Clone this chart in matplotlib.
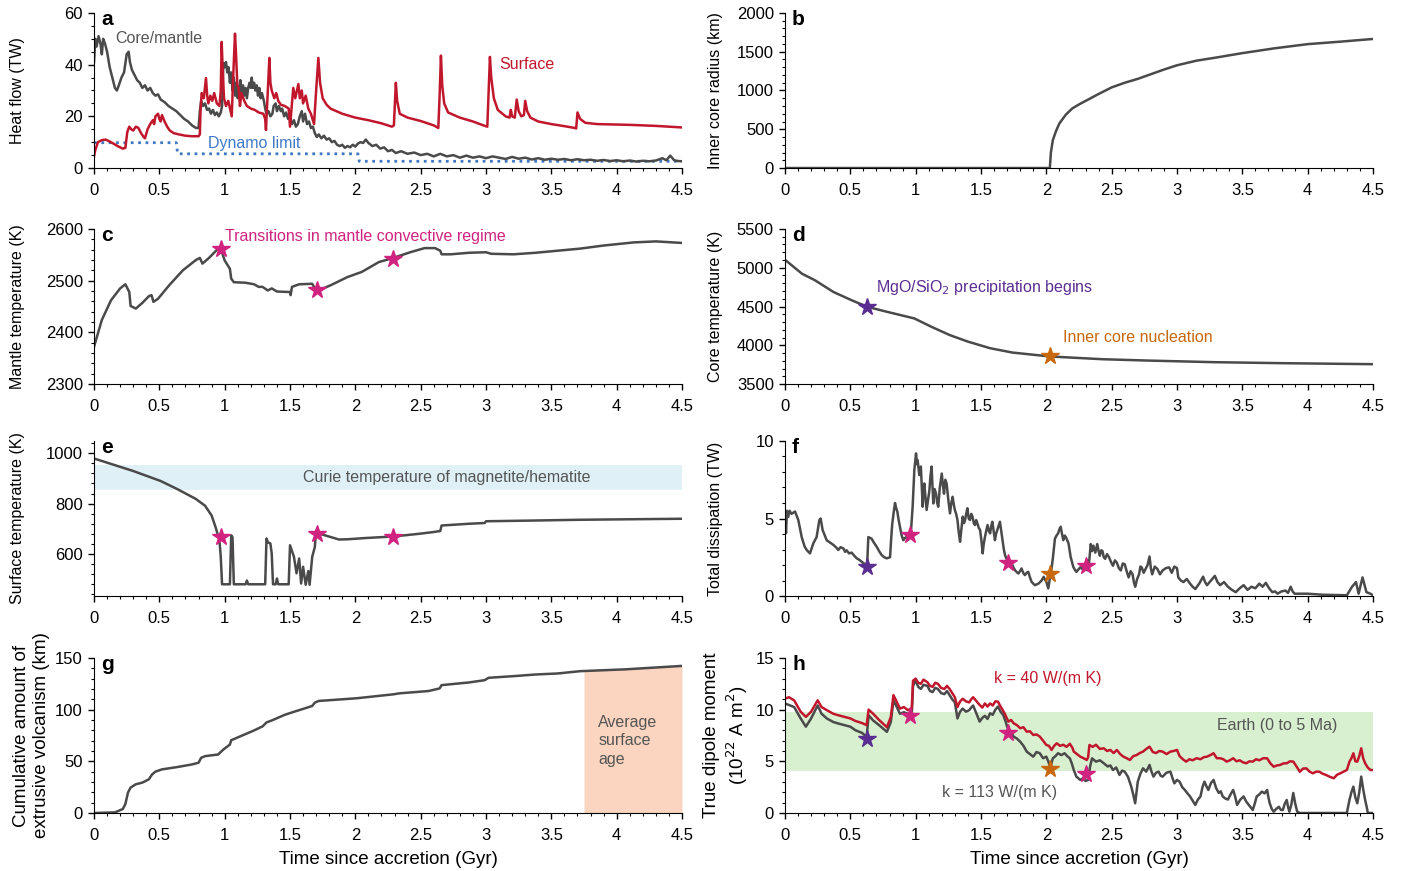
import matplotlib
matplotlib.use("Agg")
import matplotlib.pyplot as plt
from matplotlib.ticker import MultipleLocator, FuncFormatter

plt.rcParams["font.family"] = ["Liberation Sans", "DejaVu Sans"]

GRAY = "#4a4a4a"
RED = "#c1172d"
BLUE = "#3f78c4"
MAGENTA = "#d0237f"
PURPLE = "#5a2d91"
ORANGE = "#c8680e"
TXT = "#555555"

# ---- panel a: heat flow (TW)
cmb_t = [0.0, 0.01, 0.02, 0.035, 0.05, 0.06, 0.07, 0.085, 0.1, 0.12, 0.14, 0.16, 0.175, 0.19, 0.21,
         0.23, 0.25, 0.265, 0.275, 0.29, 0.31, 0.33, 0.35, 0.37, 0.39, 0.41, 0.43, 0.45, 0.47, 0.49,
         0.51, 0.54, 0.57, 0.6, 0.63, 0.66, 0.69, 0.72, 0.75, 0.78, 0.8, 0.81, 0.82, 0.835, 0.85,
         0.865, 0.88, 0.895, 0.91, 0.925, 0.94, 0.955, 0.97, 0.98, 0.99, 1.0, 1.01, 1.02, 1.03, 1.04,
         1.05, 1.06, 1.07, 1.08, 1.09, 1.1, 1.11, 1.12, 1.13, 1.14, 1.15, 1.16, 1.17, 1.18, 1.19,
         1.2, 1.207, 1.215, 1.225, 1.235, 1.245, 1.255, 1.265, 1.275, 1.285, 1.3, 1.31, 1.32, 1.335,
         1.35, 1.365, 1.375, 1.39, 1.4, 1.415, 1.43, 1.44, 1.455, 1.47, 1.485, 1.5, 1.515, 1.53,
         1.545, 1.56, 1.575, 1.59, 1.6, 1.615, 1.63, 1.645, 1.66, 1.675, 1.69, 1.705, 1.72, 1.74,
         1.76, 1.78, 1.8, 1.82, 1.84, 1.86, 1.88, 1.9, 1.92, 1.94, 1.96, 1.98, 2.0, 2.02, 2.04, 2.06,
         2.08, 2.1, 2.13, 2.16, 2.19, 2.22, 2.25, 2.28, 2.31, 2.35, 2.4, 2.45, 2.5, 2.55, 2.6, 2.65,
         2.7, 2.75, 2.8, 2.85, 2.9, 2.95, 3.0, 3.05, 3.1, 3.15, 3.2, 3.25, 3.3, 3.35, 3.4, 3.45, 3.5,
         3.55, 3.6, 3.65, 3.7, 3.75, 3.8, 3.85, 3.9, 3.95, 4.0, 4.05, 4.1, 4.15, 4.2, 4.25, 4.3,
         4.35, 4.38, 4.41, 4.44, 4.47, 4.5]
cmb_q = [41, 50, 47, 51, 48, 44, 50, 48, 45, 39, 35, 31, 30, 32, 35,
         37, 44, 45, 41, 38, 36, 34, 33, 31, 32, 30, 31, 29, 28, 28.5,
         26.5, 25.5, 24, 23, 22, 20.5, 19, 18, 16.5, 15.5, 15.5, 22, 26, 24, 25,
         22.5, 23, 21, 22.5, 20.5, 21.5, 20, 21.5, 24, 40.6, 39, 41, 37, 39, 33,
         37, 30, 35, 28, 33, 27, 30, 34, 29, 32, 28, 31, 27, 31, 33,
         31, 35, 31, 33, 30, 32, 28, 31, 27, 29, 26, 23, 21, 22,
         20, 21, 24, 25, 22, 24, 22, 23, 20, 21.5, 19, 20, 17, 18.5,
         16, 17, 20, 22, 18, 21, 17, 18, 15.5, 16, 13.5, 12, 13, 11.5,
         12.5, 11, 11.5, 10, 10.5, 9, 8.5, 9, 7.8, 8.5, 8, 9, 8.3, 9.5, 10, 9.7,
         11, 9.7, 8.5, 9, 7.5, 8, 6.5, 7, 5.8, 6.5, 5.5, 6, 5, 5.5, 4.5, 5.5,
         4.5, 5, 4, 4.8, 4, 4.5, 3.8, 4.5, 4, 3.5, 4.3, 3.6, 4, 3.3, 3.8, 3.2, 3.6,
         3.2, 3.5, 3, 3.4, 3, 3.2, 2.8, 3.1, 2.7, 3, 2.6, 2.9, 2.5, 2.8, 2.6, 2.9,
         3.8, 3, 4.8, 3, 2.7, 2.6]

surf_t = [0.0, 0.01, 0.03, 0.06, 0.09, 0.13, 0.18, 0.22, 0.24, 0.255, 0.27, 0.285, 0.3, 0.32,
          0.34, 0.36, 0.38, 0.39, 0.41, 0.43, 0.45, 0.46, 0.47, 0.49, 0.5, 0.51, 0.52, 0.54,
          0.56, 0.58, 0.61, 0.65, 0.7, 0.75, 0.8, 0.81, 0.815, 0.824, 0.84, 0.857, 0.866, 0.875,
          0.89, 0.905, 0.92, 0.94, 0.96, 0.97, 0.977, 0.985, 0.995, 1.01, 1.028, 1.045, 1.054,
          1.065, 1.079, 1.087, 1.097, 1.107, 1.117, 1.128, 1.15, 1.17, 1.2, 1.23, 1.26, 1.296,
          1.31, 1.316, 1.33, 1.342, 1.35, 1.36, 1.38, 1.395, 1.41, 1.43, 1.46, 1.49, 1.5, 1.51,
          1.525, 1.54, 1.564, 1.575, 1.59, 1.6, 1.62, 1.64, 1.66, 1.684, 1.7, 1.717, 1.73, 1.75,
          1.78, 1.81, 1.9, 2.0, 2.1, 2.2, 2.28, 2.295, 2.31, 2.32, 2.34,
          2.4, 2.5, 2.6, 2.635, 2.645, 2.655, 2.665, 2.68, 2.71, 2.8, 2.9, 2.98, 3.01, 3.02,
          3.03, 3.04, 3.06, 3.09, 3.15, 3.18, 3.19, 3.2, 3.22, 3.235, 3.25, 3.27, 3.29, 3.3,
          3.315, 3.34, 3.4, 3.5, 3.6, 3.68, 3.69, 3.7, 3.72, 3.76, 3.85, 4.0, 4.1, 4.3, 4.5]
surf_q = [4.5, 7, 10, 10.8, 11, 10, 8.5, 7.5, 7.8, 14, 16, 15, 14.5, 16,
          15.5, 13.5, 12, 11.5, 15, 17, 18.5, 17, 20, 21, 19, 18, 20.5, 18,
          16, 14.5, 13.5, 13, 12.5, 12.3, 12.3, 13, 22, 29, 27, 34.8, 28, 25,
          28, 26, 29, 25, 24, 30, 48.8, 38, 27, 24, 26, 22, 20,
          35, 52, 44, 32, 31, 24, 29, 26, 24, 23, 22.5, 21.5, 21,
          19, 14.7, 30, 42.6, 33, 30, 27, 29, 26, 24.5, 24, 23, 16, 22,
          31, 27, 32.5, 27, 30, 25, 28, 23, 21, 17, 30, 42.6, 33, 27,
          24.5, 23, 21, 19.5, 18.5, 17.3, 16, 16.5, 33, 26, 21,
          19.5, 18.2, 16.5, 15.5, 28, 43.5, 32, 25, 21.5, 19.5, 18, 16.5, 16, 30,
          43, 35, 27, 22.5, 20, 19.5, 22.5, 20, 19.5, 26.5, 22, 20, 20.5, 26,
          22, 19.5, 18, 17, 16.2, 15.5, 15.3, 21.5, 19, 17.5, 17, 16.8, 16.7, 16.3, 15.7]

dyn_t = [0.0, 0.63, 0.64, 2.02, 2.03, 4.5]
dyn_q = [9.8, 9.8, 5.5, 5.5, 2.6, 2.6]

# ---- panel b: inner core radius (km)
ic_t = [0.0, 2.027, 2.035, 2.05, 2.075, 2.1, 2.15, 2.2, 2.25, 2.3, 2.4, 2.5, 2.6, 2.7, 2.8, 2.9,
        3.0, 3.15, 3.3, 3.5, 3.75, 4.0, 4.25, 4.5]
ic_r = [0, 0, 200, 360, 480, 575, 690, 770, 820, 865, 955, 1040, 1100, 1150, 1210, 1270,
        1325, 1385, 1425, 1482, 1545, 1598, 1630, 1665]

# ---- panel c: mantle temperature (K)
tm_t = [0.0, 0.06, 0.13, 0.2, 0.24, 0.27, 0.28, 0.32, 0.37, 0.42, 0.44, 0.455, 0.49, 0.575, 0.68,
        0.78, 0.81, 0.83, 0.88, 0.95, 0.975, 1.0, 1.04, 1.05, 1.07, 1.16, 1.225, 1.26, 1.29, 1.33,
        1.36, 1.4, 1.5, 1.505, 1.515, 1.57, 1.67, 1.69, 1.7, 1.81, 1.94, 2.05, 2.18, 2.29, 2.42,
        2.53, 2.61, 2.65, 2.66, 2.73, 2.87, 3.0, 3.04, 3.21, 3.38, 3.55, 3.72, 3.9, 4.13, 4.3, 4.5]
tm_k = [2372, 2424, 2462, 2485, 2493, 2478, 2451, 2446, 2457, 2470, 2472, 2459, 2465, 2491, 2520,
        2540, 2544, 2533, 2544, 2562, 2558, 2539, 2523, 2504, 2497, 2496, 2493, 2488, 2488, 2481,
        2485, 2479, 2478, 2472, 2488, 2493, 2494, 2485, 2479, 2491, 2507, 2517, 2536, 2544, 2555,
        2563, 2563, 2558, 2551, 2551, 2554, 2555, 2552, 2551, 2554, 2558, 2562, 2568, 2574, 2576, 2573]

# ---- panel d: core temperature (K)
tc_t = [0.0, 0.13, 0.23, 0.37, 0.51, 0.63, 0.78, 0.99, 1.12, 1.26, 1.4, 1.57, 1.74, 2.03, 2.43, 2.77, 3.28, 3.8, 4.5]
tc_k = [5103, 4923, 4838, 4688, 4581, 4496, 4432, 4346, 4239, 4132, 4047, 3962, 3906, 3855, 3820, 3803, 3782, 3769, 3756]

# ---- panel e: surface temperature (K)
ts_t = [0.0, 0.3, 0.51, 0.64, 0.78, 0.85, 0.9, 0.93, 0.96, 0.97, 0.98, 1.04, 1.05, 1.06, 1.07,
        1.08, 1.16, 1.17, 1.18, 1.31, 1.32, 1.33, 1.35, 1.36, 1.37, 1.39, 1.40, 1.41, 1.49, 1.5,
        1.53, 1.55, 1.57, 1.585, 1.6, 1.62, 1.64, 1.65, 1.67, 1.69, 1.70, 1.74, 1.875, 1.94, 2.08,
        2.29, 2.49, 2.6, 2.65, 2.66, 2.87, 2.99, 3.0, 3.38, 3.72, 4.5]
ts_k = [980, 930, 890, 857, 818, 791, 752, 706, 653, 587, 477, 477, 673, 665, 477,
        477, 477, 492, 477, 477, 660, 645, 640, 600, 477, 477, 500, 477, 477, 633,
        587, 521, 580, 480, 547, 475, 530, 475, 587, 626, 692, 677, 656, 657, 662,
        668, 679, 686, 690, 712, 719, 722, 729, 732, 735, 739]
curie_lo, curie_hi = 855, 955

# ---- panel f: total dissipation (TW)
td_t = [0.0, 0.008, 0.015, 0.025, 0.035, 0.05, 0.077, 0.102, 0.128, 0.15, 0.166, 0.191, 0.217,
        0.242, 0.263, 0.273, 0.288, 0.3, 0.319, 0.345, 0.37, 0.39, 0.408, 0.425, 0.447, 0.46,
        0.472, 0.49, 0.51, 0.53, 0.549, 0.567, 0.587, 0.605, 0.62, 0.628, 0.638, 0.663, 0.68,
        0.702, 0.72, 0.74, 0.76, 0.778, 0.804, 0.812, 0.82, 0.832, 0.842, 0.85, 0.86, 0.87, 0.88,
        0.893, 0.906, 0.918, 0.93, 0.945, 0.962, 0.977, 0.99, 1.003, 1.01, 1.015, 1.028, 1.04,
        1.047, 1.054, 1.06, 1.066, 1.075, 1.084, 1.095, 1.105, 1.113, 1.122, 1.128, 1.135, 1.145,
        1.156, 1.165, 1.173, 1.185, 1.2, 1.208, 1.217, 1.227, 1.237, 1.25, 1.263, 1.273, 1.283,
        1.292, 1.3, 1.31, 1.32, 1.33, 1.34, 1.35, 1.36, 1.37, 1.378, 1.387, 1.396, 1.406, 1.416,
        1.426, 1.436, 1.445, 1.454, 1.463, 1.472, 1.483, 1.493, 1.503, 1.513, 1.52, 1.53, 1.54,
        1.55, 1.56, 1.57, 1.578, 1.587, 1.597, 1.607, 1.615, 1.625, 1.635, 1.645, 1.655, 1.666,
        1.675, 1.684, 1.695, 1.702, 1.715, 1.735, 1.748, 1.76, 1.773, 1.786, 1.798, 1.81, 1.823,
        1.836, 1.85, 1.862, 1.875, 1.887, 1.9, 1.913, 1.927, 1.94, 1.952, 1.964, 1.98, 1.99, 2.0,
        2.008, 2.015, 2.025, 2.033, 2.042, 2.05, 2.058, 2.066, 2.078, 2.09, 2.1, 2.11, 2.12, 2.13,
        2.14, 2.15, 2.16, 2.17, 2.186, 2.196, 2.206, 2.218, 2.23, 2.245, 2.26, 2.275, 2.29, 2.305,
        2.32, 2.33, 2.34, 2.35, 2.36, 2.375, 2.39, 2.4, 2.41, 2.42, 2.43, 2.44, 2.45, 2.465, 2.48,
        2.495, 2.51, 2.525, 2.54, 2.555, 2.57, 2.585, 2.6, 2.615, 2.63, 2.645, 2.66, 2.67, 2.68,
        2.695, 2.71, 2.72, 2.73, 2.745, 2.76, 2.775, 2.79, 2.8, 2.81, 2.83, 2.85, 2.87, 2.89, 2.915,
        2.94, 2.96, 2.98, 3.0, 3.01, 3.03, 3.05, 3.075, 3.1, 3.12, 3.14, 3.17, 3.2, 3.215, 3.23,
        3.26, 3.29, 3.31, 3.33, 3.36, 3.39, 3.42, 3.45, 3.48, 3.51, 3.54, 3.57, 3.6, 3.63, 3.655,
        3.68, 3.705, 3.73, 3.75, 3.77, 3.8, 3.83, 3.85, 3.87, 3.885, 3.9, 4.0, 4.12, 4.3, 4.34,
        4.37, 4.39, 4.42, 4.45, 4.48, 4.5]
td_q = [5.1, 4.05, 5.5, 5.1, 5.5, 5.3, 5.45, 4.9, 3.8, 3.2, 2.97, 2.75, 3.4,
        3.8, 4.9, 5.0, 4.26, 4.0, 3.6, 3.45, 3.3, 3.15, 2.97, 3.15, 3.07, 2.85,
        2.95, 2.75, 2.8, 2.6, 2.43, 2.35, 2.21, 2.1, 2.0, 1.9, 3.8, 3.7, 3.45,
        3.18, 2.9, 2.64, 2.5, 2.43, 2.5, 3.6, 4.58, 5.4, 6.0, 5.7, 5.44, 4.9, 4.47,
        3.9, 3.6, 3.75, 3.8, 3.65, 3.9, 5.76, 8.13, 9.2, 8.5, 8.77, 7.8, 8.35,
        7.0, 5.76, 6.8, 7.26, 6.4, 5.55, 6.2, 6.8, 7.7, 8.35, 7.2, 5.97, 6.9,
        6.6, 6.0, 5.76, 7.0, 7.9, 7.2, 6.6, 7.5, 7.26, 6.2, 5.33, 6.0, 6.4,
        5.9, 5.55, 5.3, 4.9, 4.1, 3.5, 4.3, 5.12, 4.7, 4.9, 5.3, 5.66, 5.0, 4.9,
        5.3, 5.1, 4.7, 4.58, 4.9, 4.7, 4.4, 4.26, 3.6, 2.75, 3.3, 3.8, 4.2,
        4.58, 4.2, 4.04, 4.5, 4.79, 4.2, 3.6, 4.0, 4.26, 4.5, 4.79, 4.2, 3.6,
        3.0, 2.64, 2.4, 2.32, 2.2, 2.1, 1.85, 1.67, 1.55, 1.45, 1.6, 1.78, 1.5,
        1.35, 1.5, 1.56, 1.2, 0.92, 0.8, 0.7, 0.75, 0.8, 0.9, 1.0, 1.24, 1.05, 0.92,
        0.7, 0.49, 1.0, 1.45, 1.9, 2.43, 3.1, 3.7, 3.9, 4.04, 4.3, 4.47, 4.0, 3.6,
        3.9, 3.8, 3.6, 3.4, 2.53, 2.2, 1.89, 1.7, 1.56, 1.7, 1.85, 1.75, 1.9, 1.7,
        1.65, 2.4, 3.35, 2.9, 3.25, 2.8, 3.35, 2.9, 2.6, 2.95, 2.9, 2.5, 2.4, 2.7, 2.5,
        2.2, 1.95, 2.3, 2.15, 1.8, 1.65, 2.1, 2.05, 1.6, 1.2, 1.6, 1.4, 0.9, 0.6,
        1.1, 1.4, 1.9, 1.85, 1.5, 1.75, 2.0, 2.55, 1.8, 1.4, 1.9, 1.75, 1.4, 1.65, 1.8,
        1.85, 1.5, 1.9, 1.8, 1.2, 1.0, 0.9, 1.1, 0.8, 0.6, 0.45, 0.8, 1.25, 0.9, 0.7,
        1.0, 1.3, 0.9, 0.7, 0.9, 0.6, 0.4, 0.25, 0.5, 0.7, 0.4, 0.6, 0.5, 0.8, 0.6,
        0.85, 0.5, 0.25, 0.3, 0.15, 0.3, 0.35, 0.2, 0.6, 0.3, 0.15, 0.15, 0.08, 0.05, 0.6,
        0.9, 0.15, 1.2, 0.25, 0.15, 0.05]

# ---- panel g: cumulative extrusive volcanism (km)
vol_t = [0.0, 0.16, 0.22, 0.24, 0.26, 0.28, 0.32, 0.37, 0.42, 0.445, 0.47, 0.52, 0.64, 0.75, 0.8,
         0.82, 0.85, 0.95, 0.99, 1.04, 1.05, 1.12, 1.22, 1.29, 1.32, 1.36, 1.46, 1.52, 1.64, 1.67,
         1.69, 1.72, 2.01, 2.29, 2.34, 2.56, 2.645, 2.66, 2.87, 2.99, 3.02, 3.21, 3.38, 3.55, 3.72,
         4.07, 4.5]
vol_km = [0, 0.6, 3.8, 8.6, 19.8, 24.6, 27.8, 29.4, 32.6, 37.4, 40, 42.2, 44.5, 47, 48.6,
          53.4, 55, 56.6, 61.4, 66.2, 70.4, 74.2, 79.6, 83.8, 87.6, 89.5, 95, 97.5, 102.3, 103.6,
          106.8, 108.4, 111, 114.8, 115.8, 118, 120.5, 123.7, 126.3, 128.5, 130.8, 132.4, 134, 135, 137.2,
          139, 142.3]
surface_age = 3.75

# ---- panel h: true dipole moment (1e22 A m^2), k = 40 W/(m K)
dm40_t = [0.0, 0.03, 0.07, 0.12, 0.16, 0.2, 0.25, 0.28, 0.32, 0.37, 0.41, 0.455, 0.5, 0.54, 0.59,
          0.625, 0.64, 0.675, 0.72, 0.78, 0.81, 0.83, 0.85, 0.88, 0.91, 0.94, 0.97, 0.98, 1.0, 1.02,
          1.04, 1.06, 1.09, 1.11, 1.13, 1.15, 1.17, 1.195, 1.22, 1.24, 1.26, 1.28, 1.3, 1.32, 1.34,
          1.36, 1.385, 1.41, 1.425, 1.44, 1.49, 1.51, 1.53, 1.55, 1.57, 1.59, 1.61, 1.63, 1.65,
          1.66, 1.68, 1.7, 1.71, 1.73, 1.75, 1.775, 1.8, 1.825, 1.85, 1.875, 1.9, 1.925, 1.95,
          1.975, 2.0, 2.02, 2.04, 2.06, 2.08, 2.105, 2.13, 2.155, 2.18, 2.2, 2.21, 2.235, 2.26,
          2.285, 2.31, 2.32, 2.33, 2.355, 2.38, 2.41, 2.44, 2.465, 2.49, 2.515, 2.54, 2.565, 2.59,
          2.615, 2.64, 2.665, 2.69, 2.715, 2.74, 2.765, 2.79, 2.815, 2.84, 2.865, 2.89, 2.92, 2.95,
          2.975, 3.0, 3.02, 3.045, 3.07, 3.095, 3.12, 3.15, 3.18, 3.205, 3.23, 3.255, 3.28, 3.305,
          3.33, 3.355, 3.38, 3.405, 3.43, 3.455, 3.48, 3.505, 3.53, 3.555, 3.58, 3.605, 3.63, 3.66,
          3.69, 3.715, 3.74, 3.765, 3.79, 3.815, 3.84, 3.865, 3.89, 3.915, 3.94, 3.965, 3.99, 4.015,
          4.04, 4.065, 4.09, 4.115, 4.14, 4.17, 4.2, 4.225, 4.25, 4.275, 4.3, 4.32, 4.335, 4.35,
          4.365, 4.38, 4.395, 4.41, 4.425, 4.44, 4.46, 4.48, 4.5]
dm40 = [11.06, 11.2, 10.9, 9.8, 9.3, 9.8, 10.9, 10.25, 9.95, 9.6, 9.45, 9.3, 9.15, 8.9, 8.7,
        8.5, 10.0, 9.6, 9.0, 8.3, 9.3, 11.4, 10.9, 10.1, 10.25, 9.95, 10.1, 12.8, 13.0, 12.6,
        12.5, 12.9, 12.65, 12.3, 12.2, 12.6, 12.5, 12.1, 12.0, 12.3, 12.0, 11.6, 11.2, 10.25, 10.8,
        11.05, 10.8, 10.7, 11.0, 11.2, 10.45, 10.2, 10.6, 10.3, 10.6, 10.4, 10.8, 10.77, 10.3,
        10.1, 9.65, 9.1, 8.84, 9.0, 8.68, 8.5, 8.2, 8.3, 7.87, 7.9, 7.55, 7.6, 7.39,
        7.0, 6.58, 6.5, 6.1, 6.5, 6.74, 6.5, 6.6, 6.4, 6.7, 6.3, 5.94, 5.7, 5.45,
        5.3, 5.13, 5.4, 6.58, 6.4, 6.6, 6.2, 6.26, 6.0, 6.1, 5.8, 6.1, 5.7, 5.45,
        5.3, 5.13, 5.5, 5.6, 5.8, 5.94, 6.2, 6.42, 5.9, 5.8, 6.0, 5.94, 5.7, 5.94,
        6.0, 6.1, 5.5, 5.2, 4.97, 5.2, 5.1, 5.3, 5.2, 5.4, 5.45, 5.6, 5.78, 5.3,
        5.3, 5.2, 4.97, 5.1, 5.3, 5.0, 5.1, 4.9, 4.81, 5.0, 4.97, 5.2, 5.1, 5.3,
        5.29, 4.8, 4.48, 4.6, 4.65, 4.8, 4.81, 5.0, 4.97, 4.5, 3.99, 4.3, 4.32, 4.0,
        3.84, 4.0, 3.99, 3.8, 3.68, 3.5, 3.36, 3.7, 3.84, 4.0, 4.16, 4.97, 5.3, 5.78,
        5.0, 4.97, 5.5, 6.26, 5.3, 4.81, 4.4, 4.16, 4.16]

# ---- panel h: k = 113 W/(m K)
dm113_t = [0.0, 0.03, 0.07, 0.12, 0.16, 0.2, 0.25, 0.28, 0.32, 0.37, 0.41, 0.455, 0.5, 0.54, 0.59,
           0.625, 0.64, 0.675, 0.72, 0.78, 0.81, 0.83, 0.85, 0.88, 0.91, 0.94, 0.97, 0.98, 1.0, 1.02,
           1.04, 1.06, 1.09, 1.11, 1.13, 1.15, 1.17, 1.195, 1.22, 1.24, 1.26, 1.28, 1.3, 1.32, 1.34,
           1.36, 1.385, 1.41, 1.425, 1.44, 1.49, 1.51, 1.53, 1.55, 1.57, 1.59, 1.61, 1.63, 1.65,
           1.67, 1.69, 1.7, 1.725, 1.75, 1.775, 1.8, 1.825, 1.85, 1.875, 1.9, 1.925, 1.95, 1.975,
           2.0, 2.015, 2.03, 2.05, 2.07, 2.09, 2.115, 2.14, 2.16, 2.18, 2.195, 2.21, 2.23, 2.26,
           2.28, 2.3, 2.32, 2.335, 2.35, 2.38, 2.41, 2.44, 2.47, 2.49, 2.51, 2.535, 2.56, 2.58,
           2.6, 2.625, 2.65, 2.665, 2.68, 2.69, 2.7, 2.72, 2.74, 2.765, 2.79, 2.805, 2.82, 2.84,
           2.86, 2.875, 2.89, 2.92, 2.95, 2.965, 2.98, 3.0, 3.02, 3.04, 3.06, 3.08, 3.1, 3.12,
           3.14, 3.16, 3.18, 3.195, 3.21, 3.225, 3.24, 3.26, 3.28, 3.3, 3.32, 3.335, 3.35, 3.37,
           3.39, 3.41, 3.43, 3.445, 3.46, 3.485, 3.51, 3.53, 3.555, 3.58, 3.595, 3.61, 3.63, 3.65,
           3.67, 3.69, 3.7, 3.71, 3.725, 3.74, 3.76, 3.78, 3.795, 3.81, 3.825, 3.84, 3.85, 3.86,
           3.875, 3.89, 3.905, 3.92, 3.94, 4.3, 4.32, 4.335, 4.35, 4.365, 4.38, 4.395, 4.41, 4.425,
           4.44, 4.455, 4.46, 4.5]
dm113 = [10.6, 10.45, 10.25, 9.15, 8.35, 9.15, 10.4, 9.6, 9.15, 8.8, 8.65, 8.5, 8.35, 8.0, 7.75,
         7.35, 9.45, 8.95, 8.5, 7.85, 8.8, 10.9, 10.4, 9.6, 9.75, 9.6, 9.4, 12.3, 12.8, 12.2,
         12.0, 12.4, 12.3, 11.8, 11.7, 12.1, 12.0, 11.6, 11.5, 11.8, 11.4, 11.0, 10.7, 9.15, 9.8,
         10.1, 9.8, 9.95, 10.2, 10.4, 8.84, 9.2, 9.4, 9.1, 9.65, 9.5, 10.0, 10.3, 9.8,
         9.49, 8.8, 8.36, 7.9, 7.39, 7.2, 6.9, 6.5, 5.94, 5.7, 5.45, 5.9, 5.78, 5.3,
         5.45, 5.0, 4.4, 5.29, 5.5, 5.78, 5.6, 5.78, 5.5, 5.29, 4.8, 4.16, 3.52, 3.2,
         3.36, 3.1, 3.2, 4.5, 5.29, 4.97, 5.1, 4.81, 4.5, 4.6, 4.16, 4.4, 3.68, 4.1,
         4.0, 3.5, 2.55, 1.8, 0.94, 2.0, 3.03, 3.8, 4.32, 4.0, 4.65, 4.0, 3.52, 3.9,
         4.0, 3.6, 3.52, 3.9, 4.0, 3.4, 2.87, 3.2, 3.03, 2.5, 2.23, 1.9, 1.6, 1.2,
         0.78, 1.3, 1.6, 2.5, 3.03, 2.6, 2.23, 2.9, 3.2, 2.4, 1.94, 2.1, 1.6, 1.4,
         1.3, 1.8, 2.23, 1.6, 0.78, 1.3, 1.6, 1.1, 0.7, 0.29, 0.9, 1.6, 1.8, 2.07,
         1.9, 2.23, 1.5, 0.94, 0.4, 0.13, 0.4, 0.6, 0.3, 0.29, 0.9, 1.26, 0.6, 0.13,
         0.8, 1.94, 0.9, 0.13, 0.0, 0.0, 1.26, 2.0, 2.55, 1.5, 0.94, 2.0, 3.52, 2.3,
         1.26, 0.4, 0.0, 0.0]
earth_lo, earth_hi = 4.1, 9.8

# star markers: (time, value, colour) per panel
stars_c = [(0.97, 2561, MAGENTA), (1.71, 2481, MAGENTA), (2.29, 2541, MAGENTA)]
stars_d = [(0.63, 4500, PURPLE), (2.03, 3860, ORANGE)]
stars_e = [(0.97, 668, MAGENTA), (1.71, 677, MAGENTA), (2.29, 668, MAGENTA)]
stars_f = [(0.63, 1.85, PURPLE), (0.96, 3.94, MAGENTA), (1.71, 2.1, MAGENTA),
           (2.03, 1.42, ORANGE), (2.3, 1.96, MAGENTA)]
stars_h = [(0.63, 7.2, PURPLE), (0.96, 9.36, MAGENTA), (1.71, 7.7, MAGENTA),
           (2.03, 4.3, ORANGE), (2.3, 3.8, MAGENTA)]

fig = plt.figure(figsize=(14.01, 8.71), dpi=100)

W = 0.4197
H = 0.178
cols = [0.0671, 0.5603]
rows = [0.8071, 0.5591, 0.3157, 0.0666]
# y-label anchor (right edge of rotated label) in axes units, per column
ylab_x = [-0.117, -0.105]


def make_ax(r, c, ylim, major, minor, ylabel, letter, label_size=11.5, lab_x=None):
    ax = fig.add_axes([cols[c], rows[r], W, H])
    ax.set_xlim(0, 4.5)
    ax.set_ylim(*ylim)
    ax.xaxis.set_major_locator(MultipleLocator(0.5))
    ax.xaxis.set_minor_locator(MultipleLocator(0.1))
    ax.xaxis.set_major_formatter(FuncFormatter(lambda v, p: f"{v:g}"))
    ax.yaxis.set_major_locator(MultipleLocator(major))
    ax.yaxis.set_minor_locator(MultipleLocator(minor))
    for s in ("top", "right"):
        ax.spines[s].set_visible(False)
    ax.tick_params(which="major", direction="out", length=4.5, width=1, labelsize=12)
    ax.tick_params(which="minor", direction="out", length=2.5, width=0.8)
    ax.tick_params(axis="x", which="major", pad=6)
    ax.tick_params(axis="y", which="major", pad=3.5)
    ax.set_ylabel(ylabel, fontsize=label_size)
    ax.yaxis.set_label_coords(ylab_x[c] if lab_x is None else lab_x, 0.5)
    ax.text(0.012, 1.02, letter, transform=ax.transAxes, ha="left", va="top",
            fontsize=15, fontweight="bold")
    if r == 3:
        ax.set_xlabel("Time since accretion (Gyr)", fontsize=13.5, labelpad=6)
    return ax


def put_stars(ax, stars):
    for t, v, col in stars:
        ax.plot(t, v, marker="*", ms=13, color=col, mec=col, zorder=5, clip_on=False)


LW = 1.8

# a
ax = make_ax(0, 0, (0, 60), 20, 5, "Heat flow (TW)", "a")
ax.plot(dyn_t, dyn_q, ":", color=BLUE, lw=2)
ax.plot(cmb_t, cmb_q, color=GRAY, lw=LW)
ax.plot(surf_t, surf_q, color=RED, lw=LW)
ax.text(0.16, 50, "Core/mantle", color=TXT, fontsize=11.5, va="center")
ax.text(3.1, 40, "Surface", color=RED, fontsize=11.5, va="center")
ax.text(0.87, 9.3, "Dynamo limit", color=BLUE, fontsize=11.5, va="center")

# b
ax = make_ax(0, 1, (0, 2000), 500, 100, "Inner core radius (km)", "b")
ax.plot(ic_t, ic_r, color=GRAY, lw=LW)

# c
ax = make_ax(1, 0, (2300, 2600), 100, 20, "Mantle temperature (K)", "c")
ax.plot(tm_t, tm_k, color=GRAY, lw=LW)
put_stars(ax, stars_c)
ax.text(1.0, 2585, "Transitions in mantle convective regime", color=MAGENTA,
        fontsize=11.5, va="center")

# d
ax = make_ax(1, 1, (3500, 5500), 500, 100, "Core temperature (K)", "d")
ax.plot(tc_t, tc_k, color=GRAY, lw=LW)
put_stars(ax, stars_d)
ax.text(0.70, 4740, "MgO/SiO$_2$ precipitation begins", color=PURPLE, fontsize=11.5, va="center")
ax.text(2.13, 4094, "Inner core nucleation", color=ORANGE, fontsize=11.5, va="center")

# e
ax = make_ax(2, 0, (430, 1050), 200, 40, "Surface temperature (K)", "e")
ax.axhspan(curie_lo, curie_hi, color="#dff0f6", lw=0, zorder=0)
ax.plot(ts_t, ts_k, color=GRAY, lw=LW)
put_stars(ax, stars_e)
ax.text(2.7, 905, "Curie temperature of magnetite/hematite", color=TXT,
        fontsize=11.5, ha="center", va="center")

# f
ax = make_ax(2, 1, (0, 10), 5, 1, "Total dissipation (TW)", "f")
ax.plot(td_t, td_q, color=GRAY, lw=LW)
put_stars(ax, stars_f)

# g
ax = make_ax(3, 0, (0, 150), 50, 10, "Cumulative amount of\nextrusive volcanism (km)", "g",
             label_size=13.5, lab_x=-0.075)
tail = [i for i, t in enumerate(vol_t) if t >= surface_age]
ax.fill_between([surface_age] + [vol_t[i] for i in tail],
                0, [137.2] + [vol_km[i] for i in tail], color="#fbd5bf", lw=0, zorder=0)
ax.plot(vol_t, vol_km, color=GRAY, lw=LW)
ax.text(3.86, 70, "Average\nsurface\nage", color=TXT, fontsize=11.5, va="center",
        linespacing=1.3)

# h
ax = make_ax(3, 1, (0, 15), 5, 1, "True dipole moment\n(10$^{22}$ A m$^2$)", "h",
             label_size=13.5, lab_x=-0.06)
ax.axhspan(earth_lo, earth_hi, color="#d8f0d0", lw=0, zorder=0)
ax.plot(dm113_t, dm113, color=GRAY, lw=LW)
ax.plot(dm40_t, dm40, color=RED, lw=LW)
put_stars(ax, stars_h)
ax.text(1.6, 13.05, "k = 40 W/(m K)", color=RED, fontsize=11.5, va="center")
ax.text(1.2, 1.95, "k = 113 W/(m K)", color=TXT, fontsize=11.5, va="center")
ax.text(3.31, 8.5, "Earth (0 to 5 Ma)", color=TXT, fontsize=11.5, va="center")

fig.savefig("out.png", dpi=100)
